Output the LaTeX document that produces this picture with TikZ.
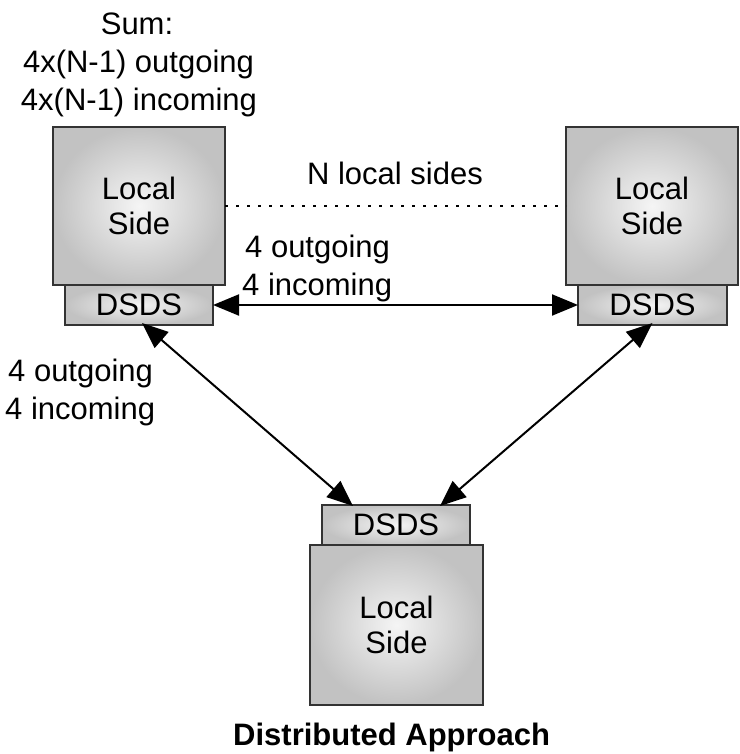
\documentclass[tikz,border=0pt]{standalone}
\usepackage{fontspec}
\setmainfont{Liberation Sans}
\usetikzlibrary{arrows.meta,calc}
\tikzset{
  boxbase/.style={draw=black!80, line width=2pt, shading=radial, inner color=white!96!black, outer color=black!24, inner sep=0pt, outer sep=0pt, align=center, font=\fontsize{31}{35}\selectfont},
  localbox/.style={boxbase, minimum width=172pt, minimum height=158pt},
  dsdsbox/.style={boxbase, minimum width=148pt, minimum height=40pt},
  lbl/.style={inner sep=0pt, font=\fontsize{31}{37}\selectfont},
  link/.style={line width=2pt, {Triangle[length=26pt,width=21pt]}-{Triangle[length=26pt,width=21pt]}},
  dots/.style={line width=2.5pt, dash pattern=on 2.5pt off 8.5pt}
}
\begin{document}
\begin{tikzpicture}[x=1pt,y=-1pt]
\useasboundingbox (0,0) rectangle (739,754);
% boxes
\node[dsdsbox] (ld) at (139,305) {DSDS};
\node[localbox] (ll) at (139,206) {Local\\Side};
\node[dsdsbox, minimum width=149pt] (rd) at (652.5,305) {DSDS};
\node[localbox] (rl) at (652,206) {Local\\Side};
\node[dsdsbox] (bd) at (396,525) {DSDS};
\node[localbox, minimum width=173pt, minimum height=160pt] (bl) at (396.5,625) {Local\\Side};
% connectors
\draw[dots] (ll.east) -- (rl.west);
\draw[link] (ld.east) -- (rd.west);
\draw[link] ([xshift=3pt,yshift=2pt]ld.south) -- ([xshift=-43pt,yshift=-1pt]bd.north);
\draw[link] ([yshift=2pt]rd.south) -- ([xshift=44pt,yshift=-1pt]bd.north);
% labels
\node[lbl, anchor=base] (s1) at (137,35) {Sum:};
\node[lbl, anchor=base] (s2) at (138.5,73) {4x(N-1) outgoing};
\node[lbl, anchor=base] (s3) at (139,111) {4x(N-1) incoming};
\node[lbl, anchor=base] (nl) at (395,185) {N local sides};
\node[lbl, anchor=base west] (h1) at (245,257) {4 outgoing};
\node[lbl, anchor=base west] (h2) at (242,295) {4 incoming};
\node[lbl, anchor=base west] (d1) at (8,381) {4 outgoing};
\node[lbl, anchor=base west] (d2) at (5,419) {4 incoming};
\node[inner sep=0pt, font=\bfseries\fontsize{31}{36}\selectfont, anchor=base west] (title) at (233,745) {Distributed Approach};
\end{tikzpicture}
\end{document}
